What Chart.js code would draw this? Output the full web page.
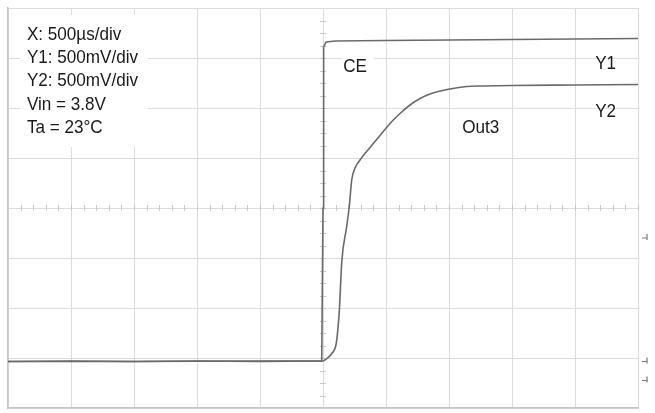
<!DOCTYPE html>
<html>
<head>
<meta charset="utf-8">
<script src="https://cdn.jsdelivr.net/npm/chart.js@4/dist/chart.umd.min.js"></script>
<style>
  html, body { margin: 0; padding: 0; background: #fff; }
  #wrap { width: 655px; height: 413px; }
</style>
</head>
<body>
<div id="wrap"><canvas id="scope"></canvas></div>
<script>
const ceX = [0, 1, 2, 3, 4, 4.98, 5.0, 5.01, 5.05, 5.2, 6, 7, 8, 9, 10];
const ceY = [0.93, 0.94, 0.93, 0.94, 0.93, 0.94, 4.0, 7.22, 7.32, 7.34, 7.35, 7.36, 7.37, 7.38, 7.39];

const outX = [0, 2, 4, 5.0, 5.03, 5.14, 5.21, 5.24, 5.26, 5.28, 5.30, 5.376, 5.417, 5.456, 5.508, 5.587, 5.746, 5.905, 6.063, 6.222, 6.381, 6.54, 6.698, 7.016, 7.281, 7.54, 8, 9, 10];
const outY = [0.93, 0.93, 0.94, 0.94, 0.96, 1.09, 1.29, 1.63, 1.96, 2.49, 2.96, 3.63, 4.03, 4.56, 4.80, 4.96, 5.21, 5.45, 5.69, 5.89, 6.06, 6.19, 6.28, 6.38, 6.43, 6.44, 6.45, 6.46, 6.47];

const infoLines = ['X: 500\u00b5s/div', 'Y1: 500mV/div', 'Y2: 500mV/div', 'Vin = 3.8V', 'Ta = 23\u00b0C'];
const traceLabels = ['CE', 'Y1', 'Y2', 'Out3'];

function points(xs, ys) {
    return xs.map(function(x, i) { return { x: x, y: ys[i] }; });
}

const FONT = '19px "Liberation Sans", Arial, sans-serif';

// grid decorations: minor ticks on the centre lines, label boxes, markers
const scopePlugin = {
    id: 'scope',
    beforeDatasetsDraw(chart) {
        const ctx = chart.ctx;
        const xs = chart.scales.x, ys = chart.scales.y;
        const cx = xs.getPixelForValue(5), cy = ys.getPixelForValue(4);
        ctx.save();
        ctx.strokeStyle = '#c8c8c8';
        ctx.lineWidth = 1;
        ctx.beginPath();
        for (let v = 0.2; v < 10; v += 0.2) {
            const px = Math.round(xs.getPixelForValue(v)) + 0.5;
            ctx.moveTo(px, cy - 3); ctx.lineTo(px, cy + 3);
        }
        for (let v = 0.25; v < 8; v += 0.25) {
            const py = Math.round(ys.getPixelForValue(v)) + 0.5;
            ctx.moveTo(cx - 3, py); ctx.lineTo(cx + 3, py);
        }
        ctx.stroke();

        // white boxes behind the texts
        ctx.fillStyle = '#fff';
        ctx.fillRect(xs.getPixelForValue(0.19), ys.getPixelForValue(7.86), 128, 132);
        ctx.fillRect(xs.getPixelForValue(5.3), ys.getPixelForValue(7.04), 32, 20);
        ctx.fillRect(xs.getPixelForValue(9.2), ys.getPixelForValue(6.95), 26, 20);
        ctx.fillRect(xs.getPixelForValue(9.2), ys.getPixelForValue(5.98), 26, 20);
        ctx.fillRect(xs.getPixelForValue(7.12), ys.getPixelForValue(5.97), 48, 36);
        ctx.restore();
    },
    afterDatasetsDraw(chart) {
        const ctx = chart.ctx;
        const xs = chart.scales.x, ys = chart.scales.y;
        ctx.save();
        ctx.fillStyle = '#1a1a1a';
        ctx.font = FONT;
        ctx.textBaseline = 'alphabetic';
        const tx = xs.getPixelForValue(0.3);
        infoLines.forEach(function(t, i) {
            ctx.save();
            ctx.translate(tx, ys.getPixelForValue(7.5) + 7 + i * 23.2);
            ctx.scale(0.9, 1);
            ctx.fillText(t, 0, 0);
            ctx.restore();
        });
        const pos = [[5.32, 6.86], [9.32, 6.92], [9.32, 5.96], [7.21, 5.64]];
        traceLabels.forEach(function(t, i) {
            ctx.save();
            ctx.translate(xs.getPixelForValue(pos[i][0]), ys.getPixelForValue(pos[i][1]) + 7);
            ctx.scale(0.9, 1);
            ctx.fillText(t, 0, 0);
            ctx.restore();
        });

        // channel / trigger markers at the right edge
        const rx = chart.chartArea.right + 4;
        ctx.strokeStyle = '#777';
        ctx.lineWidth = 1.2;
        [3.4, 0.93, 0.55].forEach(function(v) {
            const py = ys.getPixelForValue(v);
            ctx.beginPath();
            ctx.moveTo(rx, py); ctx.lineTo(rx + 5, py);
            ctx.moveTo(rx + 5, py - 4); ctx.lineTo(rx + 5, py + 2);
            ctx.stroke();
        });
        ctx.restore();
    }
};

const config = {
    type: 'scatter',
    data: {
        datasets: [{
            label: 'CE',
            data: points(ceX, ceY),
            showLine: true,
            borderColor: '#6a6a6a',
            borderWidth: 1.6,
            pointRadius: 0,
            tension: 0
        }, {
            label: 'Out3',
            data: points(outX, outY),
            showLine: true,
            borderColor: '#6a6a6a',
            borderWidth: 1.6,
            pointRadius: 0,
            cubicInterpolationMode: 'monotone',
            tension: 0.4
        }]
    },
    options: {
        responsive: true,
        maintainAspectRatio: false,
        animation: false,
        layout: { padding: { left: 8, top: 8, right: 17, bottom: 5 } },
        plugins: {
            legend: { display: false },
            tooltip: { enabled: false }
        },
        scales: {
            x: {
                type: 'linear',
                min: 0,
                max: 10,
                ticks: { display: false, stepSize: 1 },
                grid: { color: '#dcdcdc', drawTicks: false, lineWidth: 1 },
                border: { display: true, color: '#c4c4c4', width: 1.5 }
            },
            y: {
                type: 'linear',
                min: 0,
                max: 8,
                ticks: { display: false, stepSize: 1 },
                grid: { color: '#dcdcdc', drawTicks: false, lineWidth: 1 },
                border: { display: true, color: '#c4c4c4', width: 1.5 }
            }
        }
    },
    plugins: [scopePlugin]
};

new Chart(document.getElementById('scope').getContext('2d'), config);
</script>
</body>
</html>
